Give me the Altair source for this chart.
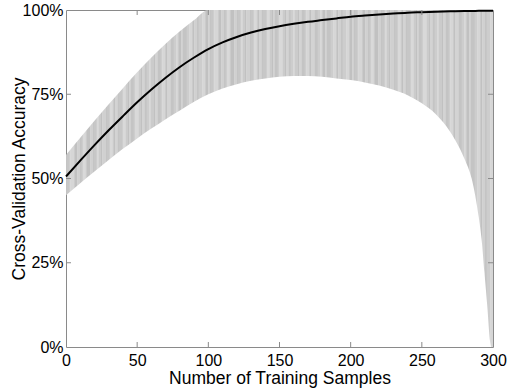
import altair as alt
import pandas as pd

# ---- data (accuracy in %) ----
samples = [0, 10, 20, 30, 40, 50, 60, 70, 80, 90, 100, 110, 120, 130, 140, 150,
           160, 170, 180, 190, 200, 210, 220, 230, 240, 250, 260, 270, 280, 285,
           290, 292, 294, 296, 298, 299, 300]
mean_acc = [50.6, 55.3, 59.9, 64.3, 68.5, 72.6, 76.4, 79.9, 83.1, 85.9, 88.4, 90.4,
            92.0, 93.3, 94.35, 95.2, 95.9, 96.5, 97.0, 97.5, 98.0, 98.35, 98.65,
            98.95, 99.2, 99.35, 99.5, 99.6, 99.7, 99.7, 99.75, 99.75, 99.8, 99.8,
            99.8, 99.8, 99.8]
upper_acc = [57.0, 62.1, 67.1, 72.0, 76.8, 81.5, 85.9, 90.0, 93.7, 97.0, 100,
             100, 100, 100, 100, 100, 100, 100, 100, 100, 100, 100, 100, 100, 100,
             100, 100, 100, 100, 100, 100, 100, 100, 100, 100, 100, 100]
lower_acc = [45.0, 48.6, 52.1, 55.5, 58.8, 61.9, 64.8, 67.6, 70.2, 72.8, 75.0,
             76.7, 78.0, 79.0, 79.7, 80.2, 80.4, 80.4, 80.2, 79.7, 79.2, 78.5, 77.6,
             76.3, 74.7, 72.3, 69.0, 63.8, 55.8, 50.0, 38.5, 32.0, 22.0, 12.0, 1.5,
             0.0, 0.0]

x_ticks = [0, 50, 100, 150, 200, 250, 300]
y_ticks = [0, 0.25, 0.5, 0.75, 1.0]

df = pd.DataFrame({
    "n": samples,
    "mean": [v / 100 for v in mean_acc],
    "upper": [v / 100 for v in upper_acc],
    "lower": [v / 100 for v in lower_acc],
})
xt = pd.DataFrame({"n": x_ticks[1:-1]})
yt = pd.DataFrame({"mean": y_ticks[1:-1]})

W, H = 427, 337
FONT = "Liberation Sans"
FRAME = "#8a8a8a"

# ---- streaked grey fill imitating the dense error bars (style only) ----
shades = ["#c4c4c4", "#d3d3d3", "#cbcbcb", "#d9d9d9", "#c7c7c7", "#d0d0d0",
          "#c1c1c1", "#d6d6d6", "#cdcdcd"]
widths = [1, 2, 1, 1, 3, 1, 2, 1, 2, 1, 1]
stops = []
pos, i = 0, 0
while pos < W:
    w = widths[i % len(widths)]
    c = shades[(i * 4) % len(shades)]
    a, b = pos / W, min(pos + w, W) / W
    stops.append(alt.GradientStop(color=c, offset=a))
    stops.append(alt.GradientStop(color=c, offset=b))
    pos += w
    i += 1
streaks = alt.LinearGradient(gradient="linear", stops=stops, x1=0, x2=1, y1=0, y2=0)

x_scale = alt.Scale(domain=[0, 300], nice=False, zero=False)
y_scale = alt.Scale(domain=[0, 1], nice=False)
x_axis = alt.Axis(values=x_ticks, title="Number of Training Samples", labelFlush=False,
                  labelPadding=5, titleY=36, titleBaseline="alphabetic")
y_axis = alt.Axis(values=y_ticks, format=".0%", title="Cross-Validation Accuracy",
                  labelFlush=False, labelPadding=3, titleX=-38, titleY=H / 2,
                  titleBaseline="bottom")

X = alt.X("n:Q", scale=x_scale, axis=x_axis)

band = alt.Chart(df).mark_area(color=streaks, opacity=1, interpolate="monotone").encode(
    x=X,
    y=alt.Y("lower:Q", scale=y_scale, axis=y_axis),
    y2="upper:Q",
)

line = alt.Chart(df).mark_line(color="black", strokeWidth=2, interpolate="monotone").encode(
    x=X, y=alt.Y("mean:Q", scale=y_scale, axis=y_axis)
)

tick_style = dict(color=FRAME, strokeWidth=1)
t_bottom = alt.Chart(xt).mark_rule(**tick_style).encode(
    x=X, y=alt.value(H), y2=alt.value(H - 5))
t_top = alt.Chart(xt).mark_rule(**tick_style).encode(
    x=X, y=alt.value(0), y2=alt.value(5))
t_left = alt.Chart(yt).mark_rule(**tick_style).encode(
    y=alt.Y("mean:Q", scale=y_scale, axis=y_axis), x=alt.value(0), x2=alt.value(5))
t_right = alt.Chart(yt).mark_rule(**tick_style).encode(
    y=alt.Y("mean:Q", scale=y_scale, axis=y_axis), x=alt.value(W - 5), x2=alt.value(W))

chart = alt.layer(band, line, t_bottom, t_top, t_left, t_right).properties(
    width=W, height=H,
    autosize=alt.AutoSizeParams(type="none"),
    padding={"left": 66, "top": 10, "right": 15, "bottom": 43},
    background="white",
).configure_view(
    stroke=FRAME, strokeWidth=1
).configure_axis(
    grid=False, domain=False, ticks=False,
    labelFont=FONT, labelFontSize=16, labelColor="black",
    titleFont=FONT, titleFontSize=17.5, titleFontWeight="normal", titleColor="black",
)

chart.save("out.html", embed_options={"renderer": "svg", "actions": False})
